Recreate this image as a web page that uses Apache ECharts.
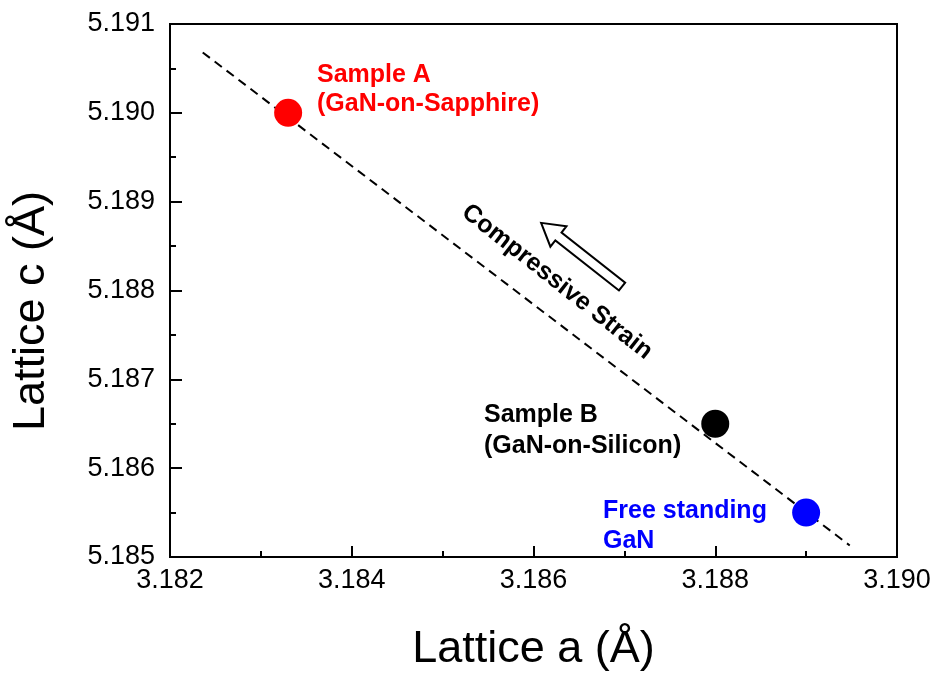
<!DOCTYPE html>
<html>
<head>
<meta charset="utf-8">
<script src="https://cdn.jsdelivr.net/npm/echarts@6/dist/echarts.min.js"></script>
<style>
  html, body { margin: 0; padding: 0; background: #fff; }
  #chart { width: 939px; height: 677px; }
</style>
</head>
<body>
<div id="chart"></div>
<script>
// Lattice parameters of the three GaN samples (Å)
const sampleNames = ['Sample A', 'Sample B', 'Free standing GaN'];
const latticeA = [3.1833, 3.188, 3.189];
const latticeC = [5.190, 5.1865, 5.1855];
const sampleColors = ['#ff0000', '#000000', '#0000ff'];

// Endpoints of the dashed strain trend line
const trendA = [3.18236, 3.18948];
const trendC = [5.19068, 5.18513];

// Axis ranges and tick steps
const xRange = [3.182, 3.190];
const yRange = [5.185, 5.191];
const xStep = 0.002;
const yStep = 0.001;

const font = 'Arial, "Liberation Sans", sans-serif';

const chart = echarts.init(document.getElementById('chart'));

const scatterData = latticeA.map((a, i) => ({
  value: [a, latticeC[i]],
  name: sampleNames[i],
  itemStyle: { color: sampleColors[i], opacity: 1 }
}));

const tickStyle = { color: '#000', width: 2 };

chart.setOption({
  animation: false,
  backgroundColor: '#ffffff',
  grid: {
    left: 170, right: 42, top: 24, bottom: 119,
    show: true, borderColor: '#000', borderWidth: 2
  },
  xAxis: {
    type: 'value',
    min: xRange[0], max: xRange[1], interval: xStep,
    name: 'Lattice a (Å)',
    nameLocation: 'middle',
    nameGap: 70,
    nameTextStyle: { fontFamily: font, fontSize: 45, color: '#000' },
    axisLine: { show: true, lineStyle: tickStyle },
    axisTick: { show: true, inside: true, length: 11, lineStyle: tickStyle },
    minorTick: { show: true, splitNumber: 2, length: 6, lineStyle: tickStyle },
    splitLine: { show: false },
    axisLabel: {
      fontFamily: font, fontSize: 27, color: '#000', margin: 10,
      formatter: v => v.toFixed(3)
    }
  },
  yAxis: {
    type: 'value',
    min: yRange[0], max: yRange[1], interval: yStep,
    axisLine: { show: true, lineStyle: tickStyle },
    axisTick: { show: true, inside: true, length: 12, lineStyle: tickStyle },
    minorTick: { show: true, splitNumber: 2, length: 6, lineStyle: tickStyle },
    splitLine: { show: false },
    axisLabel: {
      fontFamily: font, fontSize: 27, color: '#000', margin: 15,
      formatter: v => v.toFixed(3)
    }
  },
  series: [
    {
      type: 'line',
      data: [[trendA[0], trendC[0]], [trendA[1], trendC[1]]],
      symbol: 'none',
      lineStyle: { color: '#000', width: 2, type: [9, 6] },
      silent: true,
      z: 1
    },
    {
      type: 'scatter',
      data: scatterData,
      symbol: 'circle',
      symbolSize: 28,
      z: 3
    }
  ],
  graphic: [
    {
      // vertical axis title
      type: 'text', x: 32, y: 311,
      rotation: Math.PI / 2,
      style: {
        text: 'Lattice c (Å)', fill: '#000',
        font: '45px ' + font, align: 'center', verticalAlign: 'middle'
      }
    },
    {
      type: 'text', left: 317, top: 61,
      style: {
        text: 'Sample A\n(GaN-on-Sapphire)', fill: '#ff0000',
        font: 'bold 25px ' + font, lineHeight: 29
      }
    },
    {
      type: 'text', left: 484, top: 400,
      style: {
        text: 'Sample B\n(GaN-on-Silicon)', fill: '#000000',
        font: 'bold 25px ' + font, lineHeight: 31
      }
    },
    {
      type: 'text', left: 603, top: 496,
      style: {
        text: 'Free standing\nGaN', fill: '#0000ff',
        font: 'bold 25px ' + font, lineHeight: 30
      }
    },
    {
      type: 'text', x: 557, y: 282,
      rotation: -38.2 * Math.PI / 180,
      style: {
        text: 'Compressive Strain', fill: '#000',
        font: 'bold 25px ' + font,
        align: 'center', verticalAlign: 'middle'
      }
    },
    {
      // hollow arrow pointing up-left, along the strain direction
      type: 'polygon',
      x: 582, y: 255,
      rotation: 141.8 * Math.PI / 180,
      shape: {
        points: [[-51, -5], [30, -5], [30, -13], [52, 0], [30, 13], [30, 5], [-51, 5]]
      },
      style: { fill: '#fff', stroke: '#000', lineWidth: 2 }
    }
  ]
});
</script>
</body>
</html>
